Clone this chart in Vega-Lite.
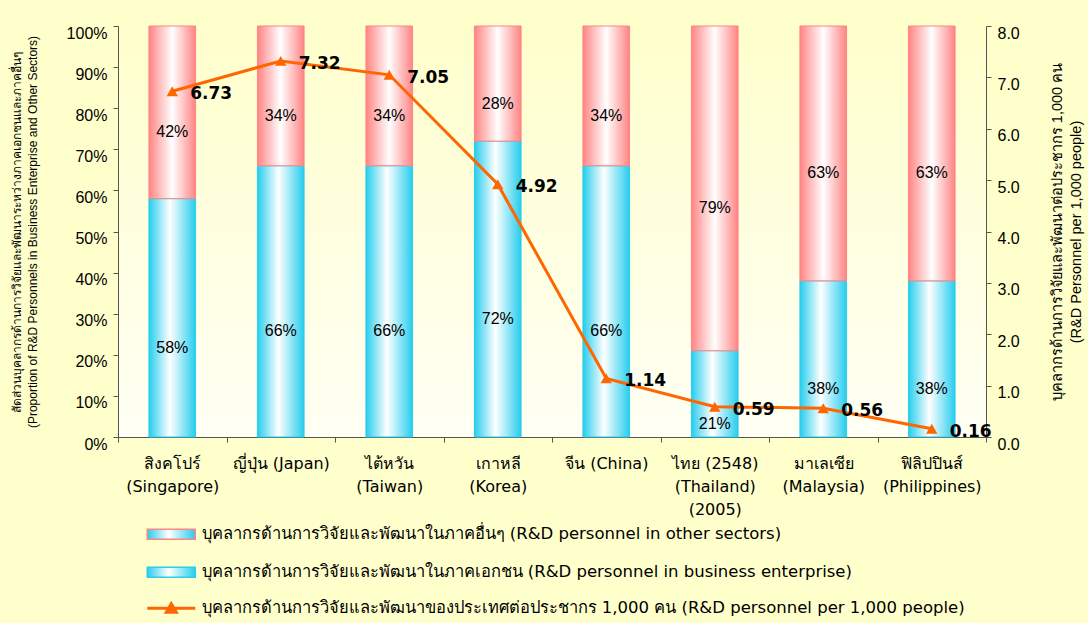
{
  "$schema": "https://vega.github.io/schema/vega-lite/v6.json",
  "width": 868,
  "height": 411,
  "autosize": {"type": "none"},
  "padding": {"left": 118, "top": 26, "right": 102, "bottom": 186},
  "background": "#FFFFCC",
  "config": {
    "view": {
      "stroke": null,
      "fill": {"gradient": "linear", "x1": 0, "y1": 0, "x2": 0, "y2": 1, "stops": [{"offset": 0, "color": "#FFFFCC"}, {"offset": 1, "color": "#FFFFF4"}]}
    },
    "legend": {"padding": 0, "titlePadding": 0}
  },
  "data": {
    "values": [
      {"country": "สิงคโปร์|(Singapore)", "business": 58, "other": 42, "per1000": 6.73},
      {"country": "ญี่ปุ่น (Japan)", "business": 66, "other": 34, "per1000": 7.32},
      {"country": "ไต้หวัน|(Taiwan)", "business": 66, "other": 34, "per1000": 7.05},
      {"country": "เกาหลี|(Korea)", "business": 72, "other": 28, "per1000": 4.92},
      {"country": "จีน (China)", "business": 66, "other": 34, "per1000": 1.14},
      {"country": "ไทย (2548)|(Thailand)|(2005)", "business": 21, "other": 79, "per1000": 0.59},
      {"country": "มาเลเซีย|(Malaysia)", "business": 38, "other": 63, "per1000": 0.56},
      {"country": "ฟิลิปปินส์|(Philippines)", "business": 38, "other": 63, "per1000": 0.16}
    ]
  },
  "encoding": {
    "x": {
      "field": "country",
      "type": "nominal",
      "sort": null,
      "scale": {"paddingInner": 0, "paddingOuter": 0},
      "axis": {
        "title": null,
        "labelAngle": 0,
        "labelExpr": "split(datum.label, '|')",
        "labelFont": "Tahoma, DejaVu Sans, sans-serif",
        "labelFontSize": 16,
        "labelLineHeight": 23,
        "labelColor": "#000000",
        "labelPadding": 13,
        "labelLimit": 0,
        "tickBand": "extent",
        "tickSize": 5,
        "tickColor": "#555555",
        "domainColor": "#555555"
      }
    }
  },
  "resolve": {"scale": {"y": "independent"}},
  "layer": [
    {
      "layer": [
        {
          "mark": {
            "type": "bar",
            "width": {"band": 0.43},
            "strokeWidth": 1,
            "fill": {"gradient": "linear", "x1": 0, "y1": 0, "x2": 1, "y2": 0, "stops": [{"offset": 0, "color": "#26CDEE"}, {"offset": 0.45, "color": "#FFFFFF"}, {"offset": 1, "color": "#26CDEE"}]}
          },
          "encoding": {
            "y": {
              "field": "business",
              "type": "quantitative",
              "scale": {"domain": [0, 100], "nice": false},
              "axis": {
                "orient": "left",
                "values": [0, 10, 20, 30, 40, 50, 60, 70, 80, 90, 100],
                "labelExpr": "datum.value + '%'",
                "title": ["สัดส่วนบุคลากรด้านการวิจัยและพัฒนาระหว่างภาคเอกชนและภาคอื่นๆ", "(Proportion of R&D Personnels in Business Enterprise and Other Sectors)"],
                "titleFont": "Liberation Sans, Tahoma, sans-serif",
                "titleFontSize": 12,
                "titleLineHeight": 16,
                "titleFontWeight": "normal",
                "titleColor": "#000000",
                "titlePadding": 27,
                "labelFont": "Liberation Sans",
                "labelFontSize": 16,
                "labelColor": "#000000",
                "labelPadding": 6,
                "labelOffset": 7,
                "tickSize": 5,
                "tickColor": "#555555",
                "domainColor": "#555555",
                "grid": false
              }
            },
            "stroke": {
              "datum": "บุคลากรด้านการวิจัยและพัฒนาในภาคเอกชน (R&D personnel in business enterprise)",
              "type": "nominal",
              "scale": {
                "domain": ["บุคลากรด้านการวิจัยและพัฒนาในภาคอื่นๆ (R&D personnel in other sectors)", "บุคลากรด้านการวิจัยและพัฒนาในภาคเอกชน (R&D personnel in business enterprise)"],
                "range": ["#FF8484", "#2BCDEA"]
              },
              "legend": {
                "orient": "none",
                "legendX": 45,
                "legendY": 500,
                "title": null,
                "symbolType": "M-4.8,-1H4.8V1H-4.8Z",
                "symbolSize": 100,
                "labelOffset": 22,
                "labelFont": "Tahoma, DejaVu Sans, sans-serif",
                "labelFontSize": 16.5,
                "labelColor": "#000000",
                "labelLimit": 0,
                "rowPadding": 21,
                "encode": {
                  "symbols": {
                    "update": {
                      "strokeWidth": {"value": 1},
                      "opacity": {"value": 1},
                      "fill": [
                        {"test": "indexOf(datum.label, 'other sectors') >= 0", "value": {"gradient": "linear", "x1": 0, "y1": 0, "x2": 1, "y2": 0, "stops": [{"offset": 0, "color": "#FF8484"}, {"offset": 0.5, "color": "#FFFFFF"}, {"offset": 1, "color": "#FF8484"}]}},
                        {"value": {"gradient": "linear", "x1": 0, "y1": 0, "x2": 1, "y2": 0, "stops": [{"offset": 0, "color": "#26CDEE"}, {"offset": 0.45, "color": "#FFFFFF"}, {"offset": 1, "color": "#26CDEE"}]}}
                      ]
                    }
                  }
                }
              }
            }
          }
        },
        {
          "mark": {
            "type": "bar",
            "width": {"band": 0.43},
            "strokeWidth": 1,
            "fill": {"gradient": "linear", "x1": 0, "y1": 0, "x2": 1, "y2": 0, "stops": [{"offset": 0, "color": "#FF8484"}, {"offset": 0.5, "color": "#FFFFFF"}, {"offset": 1, "color": "#FF8484"}]}
          },
          "encoding": {
            "y": {"field": "business", "type": "quantitative"},
            "y2": {"datum": 100},
            "stroke": {"datum": "บุคลากรด้านการวิจัยและพัฒนาในภาคอื่นๆ (R&D personnel in other sectors)", "type": "nominal"}
          }
        },
        {
          "transform": [
            {"calculate": "datum.business / 2", "as": "midB"},
            {"calculate": "datum.business + '%'", "as": "labB"}
          ],
          "mark": {"type": "text", "font": "Liberation Sans", "fontSize": 16, "color": "#000000", "dy": 30},
          "encoding": {
            "y": {"field": "midB", "type": "quantitative"},
            "text": {"field": "labB", "type": "nominal"}
          }
        },
        {
          "transform": [
            {"calculate": "(datum.business + 100) / 2", "as": "midO"},
            {"calculate": "datum.other + '%'", "as": "labO"}
          ],
          "mark": {"type": "text", "font": "Liberation Sans", "fontSize": 16, "color": "#000000", "dy": 20},
          "encoding": {
            "y": {"field": "midO", "type": "quantitative"},
            "text": {"field": "labO", "type": "nominal"}
          }
        }
      ]
    },
    {
      "layer": [
        {
          "mark": {"type": "line", "strokeWidth": 3},
          "encoding": {
            "y": {
              "field": "per1000",
              "type": "quantitative",
              "scale": {"domain": [0, 8], "nice": false},
              "axis": {
                "orient": "right",
                "values": [0, 1, 2, 3, 4, 5, 6, 7, 8],
                "format": ".1f",
                "title": ["บุคลากรด้านการวิจัยและพัฒนาต่อประชากร 1,000 คน", "(R&D Personnel per 1,000 people)"],
                "titleAngle": -90,
                "titleBaseline": "top",
                "titleFont": "Liberation Sans, Tahoma, sans-serif",
                "titleFontSize": 14.5,
                "titleLineHeight": 19,
                "titleFontWeight": "normal",
                "titleColor": "#000000",
                "titlePadding": 12,
                "labelFont": "Liberation Sans",
                "labelFontSize": 16,
                "labelColor": "#000000",
                "labelPadding": 6,
                "labelOffset": 7,
                "tickSize": 5,
                "tickColor": "#555555",
                "domainColor": "#555555",
                "grid": false
              }
            },
            "color": {
              "datum": "บุคลากรด้านการวิจัยและพัฒนาของประเทศต่อประชากร 1,000 คน (R&D personnel per 1,000 people)",
              "type": "nominal",
              "scale": {"range": ["#FF6600"]},
              "legend": {
                "orient": "none",
                "legendX": 45,
                "legendY": 574,
                "title": null,
                "symbolType": "M-4.8,0H4.8M-1,0.8L0,-0.9L1,0.8Z",
                "symbolSize": 100,
                "labelOffset": 22,
                "labelFont": "Tahoma, DejaVu Sans, sans-serif",
                "labelFontSize": 16.5,
                "labelColor": "#000000",
                "labelLimit": 0,
                "encode": {"symbols": {"update": {"fill": {"value": "#FF6600"}, "stroke": {"value": "#FF6600"}, "strokeWidth": {"value": 3}, "opacity": {"value": 1}}}}
              }
            }
          }
        },
        {
          "mark": {"type": "point", "shape": "triangle-up", "filled": true, "size": 130, "opacity": 1},
          "encoding": {
            "y": {"field": "per1000", "type": "quantitative"},
            "color": {"datum": "บุคลากรด้านการวิจัยและพัฒนาของประเทศต่อประชากร 1,000 คน (R&D personnel per 1,000 people)", "type": "nominal"}
          }
        },
        {
          "mark": {"type": "text", "align": "left", "dx": 18, "dy": 3, "font": "DejaVu Sans", "fontWeight": "bold", "fontSize": 17, "color": "#000000"},
          "encoding": {
            "y": {"field": "per1000", "type": "quantitative"},
            "text": {"field": "per1000", "type": "quantitative", "format": ".2f"}
          }
        }
      ]
    }
  ]
}
